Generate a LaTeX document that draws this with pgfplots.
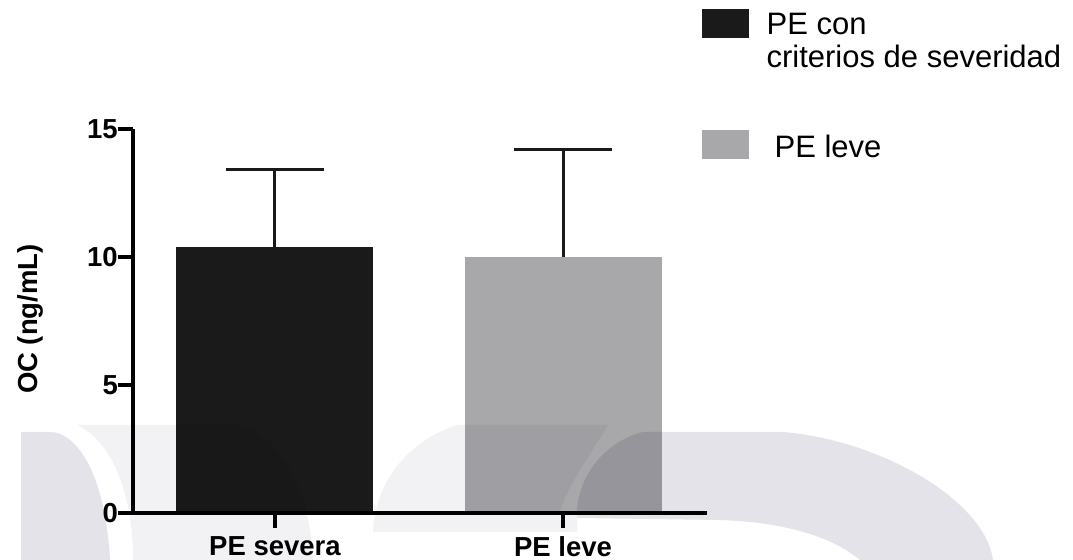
\documentclass[border=0pt]{standalone}
\usepackage{fontspec}
\setmainfont{Liberation Sans}
\usepackage{pgfplots}
\pgfplotsset{compat=1.18}
\definecolor{barA}{HTML}{1A1A1A}
\definecolor{barB}{HTML}{A8A8AA}
\definecolor{wmA}{HTML}{E4E3EA}
\definecolor{wmB}{HTML}{F2F2F5}
\begin{document}
\begin{tikzpicture}
\useasboundingbox (0,0) rectangle (1073bp,560bp);
\begin{axis}[
  at={(133bp,47bp)}, anchor=south west,
  scale only axis, width=574bp, height=384bp,
  xmin=-0.493, xmax=1.5, ymin=0, ymax=15,
  axis x line=bottom, axis y line=left,
  axis line style={-, line width=3.5bp, black},
  xtick={0,1}, xticklabels={PE severa, PE leve},
  ytick={0,5,10,15},
  tick align=outside, major tick length=15bp,
  tick style={line width=3.5bp, black},
  ticklabel style={font=\fontsize{27.5bp}{33bp}\selectfont\bfseries, inner sep=0pt},
  xticklabel style={yshift=-8bp},
  /pgf/number format/assume math mode=true,
  ylabel={OC (ng/mL)},
  ylabel style={font=\fontsize{27.5bp}{33bp}\selectfont\bfseries, at={(axis description cs:-0.1794,0.505)}, anchor=center},
  ybar, bar width=197bp, bar shift=0pt,
  axis on top,
  legend style={at={(axis description cs:0.9913,1.3125)}, anchor=north west, draw=none, fill=none, inner sep=0pt, row sep=5bp, column sep=18bp, font=\fontsize{31bp}{37bp}\selectfont, cells={anchor=base west}, nodes={inner sep=0pt}},
]
\addplot[forget plot, fill=barA, draw=none,
  error bars/.cd, y dir=plus, y explicit,
  error bar style={line width=3bp, color=barA},
  error mark options={rotate=90, mark size=49bp, line width=3bp, color=barA}]
  coordinates {(0,10.4) +- (0,3.0)};
\addplot[forget plot, fill=barB, draw=none,
  error bars/.cd, y dir=plus, y explicit,
  error bar style={line width=3bp, color=barA},
  error mark options={rotate=90, mark size=49bp, line width=3bp, color=barA}]
  coordinates {(1,10.0) +- (0,4.2)};
\addlegendimage{legend image code/.code={\fill[barA] (0bp,-3bp) rectangle (46bp,25bp);}}
\addlegendentry{PE con\rule[-3bp]{0pt}{28bp}}
\addlegendimage{legend image code/.code={\path[draw=none,fill=none,opacity=0] (0bp,-57bp) rectangle (1bp,25bp);}}
\addlegendentry{criterios de severidad}
\addlegendimage{legend image code/.code={\fill[barB] (0bp,0bp) rectangle (46bp,28bp);}}
\addlegendentry{\hspace{8bp}PE leve\rule[-3bp]{0pt}{28bp}}
\end{axis}
% faint watermark in the background of the page
\begin{scope}[x=1bp, y=-1bp, yshift=560bp, blend mode=multiply]
\fill[wmA] (21,432) -- (50,432) .. controls (75,432) and (105,470) .. (110,560) -- (21,560) -- cycle;
\fill[wmB] (77,425) -- (233,425) .. controls (270,425) and (310,480) .. (313,560) -- (133,560) .. controls (133,490) and (110,440) .. (77,425) -- cycle;
\fill[wmB] (457,425) -- (608,425) .. controls (590,455) and (565,490) .. (560,513) -- (577,513) -- (577,532) -- (373,532) .. controls (375,480) and (410,440) .. (457,425) -- cycle;
\fill[wmA] (643,432) -- (783,432) .. controls (880,440) and (985,500) .. (993,560) -- (860,560) .. controls (830,535) and (780,522) .. (720,520) -- (577,518) -- (577,510) .. controls (580,470) and (610,440) .. (643,432) -- cycle;
\end{scope}
\end{tikzpicture}
\end{document}
